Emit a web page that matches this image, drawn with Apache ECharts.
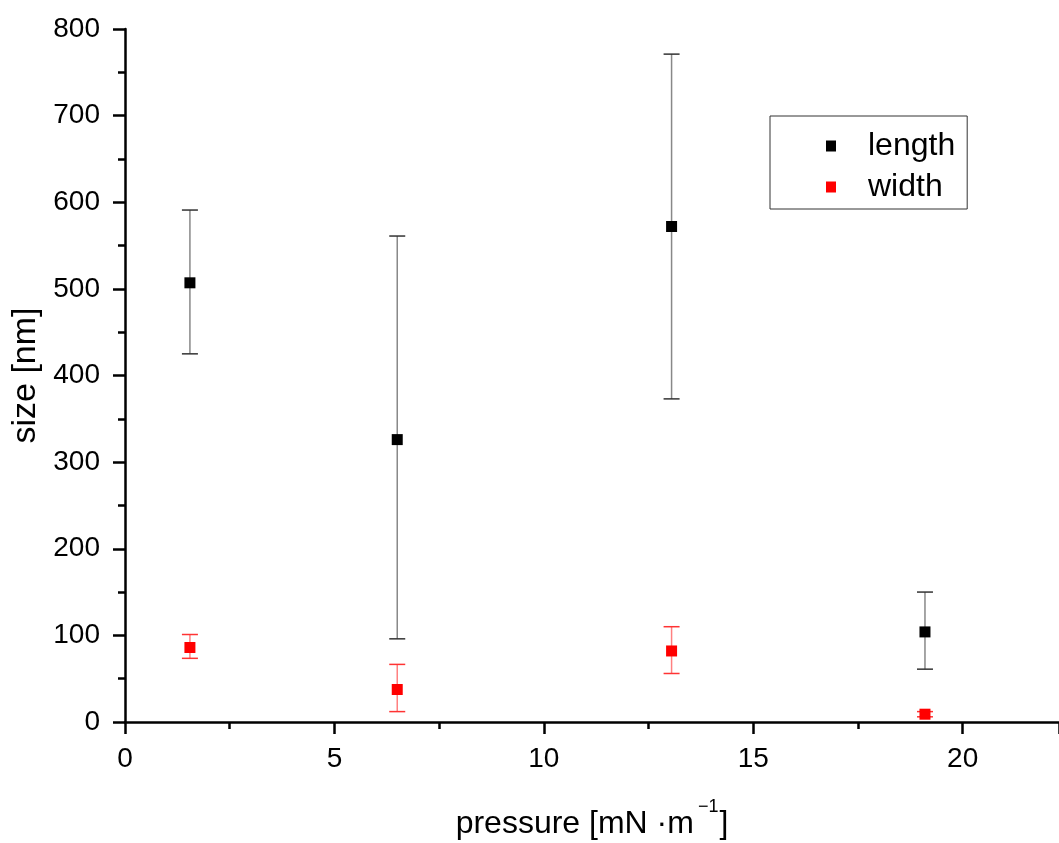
<!DOCTYPE html>
<html><head><meta charset="utf-8">
<script src="https://cdn.jsdelivr.net/npm/echarts@6/dist/echarts.min.js"></script>
<style>html,body{margin:0;padding:0;background:#fff}#c{width:1059px;height:843px}</style>
</head><body><div id="c"></div>
<script>
const pressure   = [1.55, 6.5, 13.05, 19.1];
const lengthMean = [507, 326, 572, 104];
const lengthLow  = [425, 96, 373, 61];
const lengthHigh = [591, 561, 771, 150];
const widthMean  = [86, 37.5, 82, 9];
const widthLow   = [73.5, 12, 56, 6];
const widthHigh  = [101, 66.5, 110, 12];
const yTicks = [0, 100, 200, 300, 400, 500, 600, 700, 800];
const xTicks = [0, 5, 10, 15, 20];

const FONT = 'Liberation Sans, Arial, sans-serif';
function errData(lo, hi) { return pressure.map((p, i) => [p, lo[i], hi[i]]); }
function errSeries(name, lo, hi, lineCol, capCol) {
  return {
    type: 'custom', name: name + '_err', z: 1, silent: true,
    data: errData(lo, hi),
    renderItem: function (params, api) {
      const x = api.value(0);
      const a = api.coord([x, api.value(1)]);
      const b = api.coord([x, api.value(2)]);
      const w = 8;
      return { type: 'group', children: [
        { type: 'line', shape: { x1: a[0], y1: a[1], x2: b[0], y2: b[1] }, style: { stroke: lineCol, lineWidth: 1.5 } },
        { type: 'line', shape: { x1: a[0] - w, y1: a[1], x2: a[0] + w, y2: a[1] }, style: { stroke: capCol, lineWidth: 1.5 } },
        { type: 'line', shape: { x1: b[0] - w, y1: b[1], x2: b[0] + w, y2: b[1] }, style: { stroke: capCol, lineWidth: 1.5 } }
      ]};
    }
  };
}
const chart = echarts.init(document.getElementById('c'), null, { renderer: 'canvas' });
chart.setOption({
  animation: false,
  backgroundColor: '#fff',
  grid: { left: 125, top: 29, right: 0, bottom: 121, containLabel: false, outerBoundsMode: 'none' },
  legend: {
    orient: 'vertical', left: 770, top: 116,
    data: [{ name: 'length', icon: 'rect' }, { name: 'width', icon: 'rect' }],
    itemWidth: 10, itemHeight: 11, itemGap: 7,
    borderColor: '#333', borderWidth: 1, padding: [13, 12, 5, 56],
    textStyle: { fontFamily: FONT, fontSize: 32, color: '#000', lineHeight: 34, padding: [0, 0, 0, 27] }
  },
  xAxis: {
    type: 'value', min: 0, max: 22.3, interval: 5,
    name: '{a|pressure [mN ·m}{s|−1}{a|]}', nameLocation: 'middle', nameGap: 76,
    nameTextStyle: { rich: {
      a: { fontFamily: FONT, fontSize: 32, color: '#000' },
      s: { fontFamily: FONT, fontSize: 18, color: '#000', padding: [0, 1, 34, 4] }
    } },
    axisLine: { onZero: false, lineStyle: { color: '#000', width: 2.5 } },
    axisTick: { show: true, inside: false, length: 12, lineStyle: { color: '#000', width: 2.5 } },
    minorTick: { show: true, splitNumber: 2, length: 7, lineStyle: { color: '#000', width: 2.5 } },
    axisLabel: { fontFamily: FONT, fontSize: 28, color: '#000', margin: 23,
      formatter: v => xTicks.includes(v) ? String(v) : '' },
    splitLine: { show: false }
  },
  yAxis: {
    type: 'value', min: 0, max: 800, interval: 100,
    name: 'size [nm]', nameLocation: 'middle', nameGap: 81,
    nameTextStyle: { fontFamily: FONT, fontSize: 34, color: '#000' },
    axisLine: { onZero: false, lineStyle: { color: '#000', width: 2.5 } },
    axisTick: { show: true, inside: false, length: 12, lineStyle: { color: '#000', width: 2.5 } },
    minorTick: { show: true, splitNumber: 2, length: 7, lineStyle: { color: '#000', width: 2.5 } },
    axisLabel: { fontFamily: FONT, fontSize: 28, color: '#000', margin: 25,
      formatter: v => yTicks.includes(v) ? String(v) : '' },
    splitLine: { show: false }
  },
  series: [
    errSeries('length', lengthLow, lengthHigh, '#888888', '#333333'),
    errSeries('width', widthLow, widthHigh, '#ff8080', '#ff3333'),
    { type: 'scatter', name: 'length', z: 3, symbol: 'rect', symbolSize: [11, 11],
      itemStyle: { color: '#000', opacity: 1 }, data: pressure.map((p, i) => [p, lengthMean[i]]) },
    { type: 'scatter', name: 'width', z: 3, symbol: 'rect', symbolSize: [11, 11],
      itemStyle: { color: '#ff0000', opacity: 1 }, data: pressure.map((p, i) => [p, widthMean[i]]) }
  ]
});
</script></body></html>
